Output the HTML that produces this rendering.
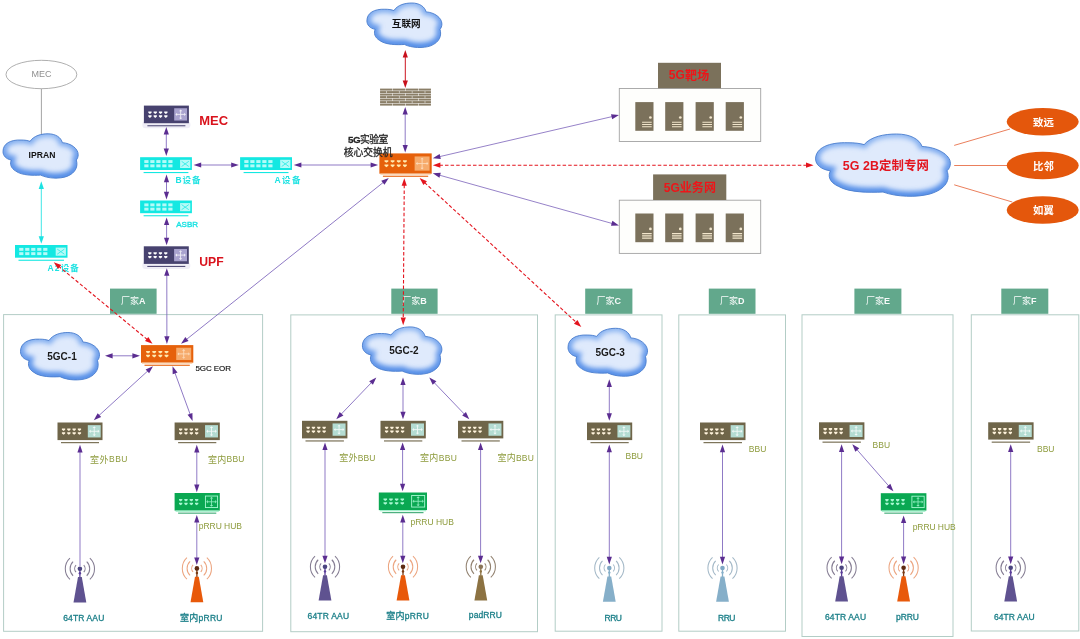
<!DOCTYPE html>
<html lang="zh">
<head>
<meta charset="utf-8">
<title>5G lab network topology</title>
<style>
html,body{margin:0;padding:0;background:#ffffff;}
body{width:1080px;height:639px;overflow:hidden;font-family:"Liberation Sans","Noto Sans CJK SC",sans-serif;}
svg{display:block;font-family:"Liberation Sans","Noto Sans CJK SC",sans-serif;filter:blur(0.4px);}
</style>
</head>
<body>
<svg width="1080" height="639" viewBox="0 0 1080 639">
<defs>
<linearGradient id="cg" x1="0" y1="0" x2="0" y2="1"><stop offset="0" stop-color="#8db6f1"/><stop offset="0.45" stop-color="#6a9dec"/><stop offset="1" stop-color="#4c88e6"/></linearGradient>
<filter id="blurS" x="-30%" y="-30%" width="160%" height="160%"><feGaussianBlur stdDeviation="2.7"/></filter>
<filter id="blurL" x="-30%" y="-30%" width="160%" height="160%"><feGaussianBlur stdDeviation="5.5"/></filter>
</defs>
<rect width="1080" height="639" fill="#ffffff"/>
<rect x="3.60" y="314.60" width="259.00" height="316.70" fill="#ffffff" stroke="#b3cdc6" stroke-width="1"/>
<rect x="290.80" y="314.90" width="246.70" height="316.80" fill="#ffffff" stroke="#b3cdc6" stroke-width="1"/>
<rect x="555.20" y="314.90" width="106.80" height="316.30" fill="#ffffff" stroke="#b3cdc6" stroke-width="1"/>
<rect x="678.80" y="314.90" width="106.70" height="316.30" fill="#ffffff" stroke="#b3cdc6" stroke-width="1"/>
<rect x="802.00" y="314.80" width="151.00" height="321.70" fill="#ffffff" stroke="#b3cdc6" stroke-width="1"/>
<rect x="971.30" y="314.80" width="107.50" height="316.20" fill="#ffffff" stroke="#b3cdc6" stroke-width="1"/>
<rect x="110.00" y="288.6" width="46.60" height="25.2" fill="#62a88c"/>
<g aria-label="厂家A" fill="#ffffff" opacity="0.95"><text x="121.05" y="304.42" font-size="9" font-family="'Liberation Sans','Noto Sans CJK SC',sans-serif" xml:space="preserve">厂家</text><text x="139.05" y="304.19" font-size="9" font-weight="bold" xml:space="preserve">A</text></g>
<rect x="391.30" y="288.6" width="46.30" height="25.2" fill="#62a88c"/>
<g aria-label="厂家B" fill="#ffffff" opacity="0.95"><text x="402.20" y="304.42" font-size="9" font-family="'Liberation Sans','Noto Sans CJK SC',sans-serif" xml:space="preserve">厂家</text><text x="420.20" y="304.19" font-size="9" font-weight="bold" xml:space="preserve">B</text></g>
<rect x="585.20" y="288.6" width="47.20" height="25.2" fill="#62a88c"/>
<g aria-label="厂家C" fill="#ffffff" opacity="0.95"><text x="596.55" y="304.42" font-size="9" font-family="'Liberation Sans','Noto Sans CJK SC',sans-serif" xml:space="preserve">厂家</text><text x="614.55" y="304.19" font-size="9" font-weight="bold" xml:space="preserve">C</text></g>
<rect x="708.80" y="288.6" width="46.70" height="25.2" fill="#62a88c"/>
<g aria-label="厂家D" fill="#ffffff" opacity="0.95"><text x="719.90" y="304.42" font-size="9" font-family="'Liberation Sans','Noto Sans CJK SC',sans-serif" xml:space="preserve">厂家</text><text x="737.90" y="304.19" font-size="9" font-weight="bold" xml:space="preserve">D</text></g>
<rect x="854.40" y="288.6" width="47.00" height="25.2" fill="#62a88c"/>
<g aria-label="厂家E" fill="#ffffff" opacity="0.95"><text x="865.90" y="304.42" font-size="9" font-family="'Liberation Sans','Noto Sans CJK SC',sans-serif" xml:space="preserve">厂家</text><text x="883.90" y="304.19" font-size="9" font-weight="bold" xml:space="preserve">E</text></g>
<rect x="1001.30" y="288.6" width="47.00" height="25.2" fill="#62a88c"/>
<g aria-label="厂家F" fill="#ffffff" opacity="0.95"><text x="1013.05" y="304.42" font-size="9" font-family="'Liberation Sans','Noto Sans CJK SC',sans-serif" xml:space="preserve">厂家</text><text x="1031.05" y="304.19" font-size="9" font-weight="bold" xml:space="preserve">F</text></g>
<ellipse cx="41.4" cy="74.5" rx="35.4" ry="14.2" fill="#ffffff" stroke="#9a9a9a" stroke-width="0.8"/>
<g aria-label="MEC" fill="#8f8f8f"><text x="31.60" y="77.49" font-size="9" xml:space="preserve">MEC</text></g>
<path d="M41.4,88.8V135" stroke="#9a9a9a" stroke-width="0.9"/>
<clipPath id="cc1"><path d="M3.00,151.56C3.00,143.57 10.52,139.57 21.05,140.02C24.81,140.02 27.82,140.46 30.07,141.35C33.83,135.58 41.35,133.80 48.12,133.80C55.64,133.80 60.90,137.35 62.41,142.68C70.68,143.12 78.20,148.45 78.20,154.67C78.20,156.89 77.45,158.66 76.32,160.00C78.20,166.21 75.94,172.87 66.92,176.42C59.40,179.09 48.12,178.64 40.60,175.09C33.08,175.54 21.80,175.54 15.78,171.10C10.52,167.99 9.77,163.55 11.27,160.00C6.01,159.11 3.00,155.56 3.00,151.56Z"/></clipPath>
<path d="M3.00,151.56C3.00,143.57 10.52,139.57 21.05,140.02C24.81,140.02 27.82,140.46 30.07,141.35C33.83,135.58 41.35,133.80 48.12,133.80C55.64,133.80 60.90,137.35 62.41,142.68C70.68,143.12 78.20,148.45 78.20,154.67C78.20,156.89 77.45,158.66 76.32,160.00C78.20,166.21 75.94,172.87 66.92,176.42C59.40,179.09 48.12,178.64 40.60,175.09C33.08,175.54 21.80,175.54 15.78,171.10C10.52,167.99 9.77,163.55 11.27,160.00C6.01,159.11 3.00,155.56 3.00,151.56Z" fill="#dfeafc"/>
<g clip-path="url(#cc1)"><path d="M3.00,151.56C3.00,143.57 10.52,139.57 21.05,140.02C24.81,140.02 27.82,140.46 30.07,141.35C33.83,135.58 41.35,133.80 48.12,133.80C55.64,133.80 60.90,137.35 62.41,142.68C70.68,143.12 78.20,148.45 78.20,154.67C78.20,156.89 77.45,158.66 76.32,160.00C78.20,166.21 75.94,172.87 66.92,176.42C59.40,179.09 48.12,178.64 40.60,175.09C33.08,175.54 21.80,175.54 15.78,171.10C10.52,167.99 9.77,163.55 11.27,160.00C6.01,159.11 3.00,155.56 3.00,151.56Z" fill="none" stroke="url(#cg)" stroke-width="8" filter="url(#blurS)" transform="translate(0,-0.8)"/></g>
<path d="M3.00,151.56C3.00,143.57 10.52,139.57 21.05,140.02C24.81,140.02 27.82,140.46 30.07,141.35C33.83,135.58 41.35,133.80 48.12,133.80C55.64,133.80 60.90,137.35 62.41,142.68C70.68,143.12 78.20,148.45 78.20,154.67C78.20,156.89 77.45,158.66 76.32,160.00C78.20,166.21 75.94,172.87 66.92,176.42C59.40,179.09 48.12,178.64 40.60,175.09C33.08,175.54 21.80,175.54 15.78,171.10C10.52,167.99 9.77,163.55 11.27,160.00C6.01,159.11 3.00,155.56 3.00,151.56Z" fill="none" stroke="#4a7dcd" stroke-width="0.9"/>
<g aria-label="IPRAN" fill="#111111"><text x="28.62" y="158.25" font-size="8.6" font-weight="bold" xml:space="preserve">IPRAN</text></g>
<path d="M41.30,187.90L41.30,237.20" stroke="#1ce2e2" stroke-width="0.85" fill="none"/>
<path d="M41.30,181.30L43.90,188.90L38.70,188.90Z" fill="#1ce2e2"/>
<path d="M41.30,243.80L38.70,236.20L43.90,236.20Z" fill="#1ce2e2"/>
<rect x="15.00" y="245.00" width="52.50" height="12.70" fill="#14e8e2"/><rect x="18.50" y="259.70" width="45.50" height="1.1" fill="#14e8e2"/><rect x="19.20" y="247.90" width="4.2" height="2.9" fill="#b5fbf8"/><rect x="19.20" y="252.20" width="4.2" height="2.9" fill="#b5fbf8"/><rect x="25.20" y="247.90" width="4.2" height="2.9" fill="#b5fbf8"/><rect x="25.20" y="252.20" width="4.2" height="2.9" fill="#b5fbf8"/><rect x="31.20" y="247.90" width="4.2" height="2.9" fill="#b5fbf8"/><rect x="31.20" y="252.20" width="4.2" height="2.9" fill="#b5fbf8"/><rect x="37.20" y="247.90" width="4.2" height="2.9" fill="#b5fbf8"/><rect x="37.20" y="252.20" width="4.2" height="2.9" fill="#b5fbf8"/><rect x="43.20" y="247.90" width="4.2" height="2.9" fill="#b5fbf8"/><rect x="43.20" y="252.20" width="4.2" height="2.9" fill="#b5fbf8"/><rect x="55.70" y="247.60" width="10.20" height="8.10" fill="#b5fbf8"/><path d="M57.20,249.10L64.40,254.20M64.40,249.10L57.20,254.20" stroke="#14e8e2" stroke-width="0.9" opacity="0.8"/>
<g aria-label="A2设备" fill="#1ce2e2"><text x="47.50" y="271.22" font-size="8.5" font-weight="bold" letter-spacing="1.145" xml:space="preserve">A2</text><text x="60.66" y="271.43" font-size="8.5" font-weight="bold" letter-spacing="1.14" font-family="'Liberation Sans','Noto Sans CJK SC',sans-serif" xml:space="preserve">设备</text></g>
<rect x="142.40" y="121.20" width="48.00" height="7" rx="3" fill="#f0eef7"/><rect x="143.90" y="105.60" width="45.00" height="17.60" fill="#47426f"/><rect x="147.40" y="125.20" width="38.00" height="1.1" fill="#55507a"/><path d="M148.30,111.50h3.30v1.3l-1.65,1.3l-1.65,-1.3z" fill="#ffffff"/><path d="M148.30,115.28h3.30v1.3l-1.65,1.3l-1.65,-1.3z" fill="#ffffff"/><path d="M153.60,111.50h3.30v1.3l-1.65,1.3l-1.65,-1.3z" fill="#ffffff"/><path d="M153.60,115.28h3.30v1.3l-1.65,1.3l-1.65,-1.3z" fill="#ffffff"/><path d="M158.90,111.50h3.30v1.3l-1.65,1.3l-1.65,-1.3z" fill="#ffffff"/><path d="M158.90,115.28h3.30v1.3l-1.65,1.3l-1.65,-1.3z" fill="#ffffff"/><path d="M164.20,111.50h3.30v1.3l-1.65,1.3l-1.65,-1.3z" fill="#ffffff"/><path d="M164.20,115.28h3.30v1.3l-1.65,1.3l-1.65,-1.3z" fill="#ffffff"/><rect x="174.20" y="108.24" width="12.90" height="12.32" fill="#a9a3cf"/><path d="M176.80,114.40H184.50M180.65,110.84V117.96" stroke="#ffffff" stroke-width="0.9" opacity="0.8"/><path d="M175.40,114.40l1.7,-1.7v3.4zM185.90,114.40l-1.7,-1.7v3.4zM180.65,109.44l-1.7,1.7h3.4zM180.65,119.36l-1.7,-1.7h3.4z" fill="#ffffff" opacity="0.8"/>
<g aria-label="MEC" fill="#d9121c"><text x="199.20" y="125.41" font-size="13" font-weight="bold" xml:space="preserve">MEC</text></g>
<path d="M166.30,133.60L166.30,149.40" stroke="#7b62ba" stroke-width="0.85" fill="none"/>
<path d="M166.30,127.00L168.90,134.60L163.70,134.60Z" fill="#5b2d91"/>
<path d="M166.30,156.00L163.70,148.40L168.90,148.40Z" fill="#5b2d91"/>
<rect x="140.10" y="157.20" width="51.80" height="12.80" fill="#14e8e2"/><rect x="143.60" y="172.00" width="44.80" height="1.1" fill="#14e8e2"/><rect x="144.30" y="160.10" width="4.2" height="2.9" fill="#b5fbf8"/><rect x="144.30" y="164.40" width="4.2" height="2.9" fill="#b5fbf8"/><rect x="150.30" y="160.10" width="4.2" height="2.9" fill="#b5fbf8"/><rect x="150.30" y="164.40" width="4.2" height="2.9" fill="#b5fbf8"/><rect x="156.30" y="160.10" width="4.2" height="2.9" fill="#b5fbf8"/><rect x="156.30" y="164.40" width="4.2" height="2.9" fill="#b5fbf8"/><rect x="162.30" y="160.10" width="4.2" height="2.9" fill="#b5fbf8"/><rect x="162.30" y="164.40" width="4.2" height="2.9" fill="#b5fbf8"/><rect x="168.30" y="160.10" width="4.2" height="2.9" fill="#b5fbf8"/><rect x="168.30" y="164.40" width="4.2" height="2.9" fill="#b5fbf8"/><rect x="180.10" y="159.80" width="10.20" height="8.20" fill="#b5fbf8"/><path d="M181.60,161.30L188.80,166.50M188.80,161.30L181.60,166.50" stroke="#14e8e2" stroke-width="0.9" opacity="0.8"/>
<g aria-label="B设备" fill="#1ce2e2"><text x="175.50" y="183.02" font-size="8.5" font-weight="bold" letter-spacing="0.931" xml:space="preserve">B</text><text x="182.57" y="183.23" font-size="8.5" font-weight="bold" letter-spacing="0.93" font-family="'Liberation Sans','Noto Sans CJK SC',sans-serif" xml:space="preserve">设备</text></g>
<path d="M166.50,181.20L166.50,192.80" stroke="#7b62ba" stroke-width="0.85" fill="none"/>
<path d="M166.50,174.60L169.10,182.20L163.90,182.20Z" fill="#5b2d91"/>
<path d="M166.50,199.40L163.90,191.80L169.10,191.80Z" fill="#5b2d91"/>
<rect x="140.10" y="200.50" width="51.80" height="12.70" fill="#14e8e2"/><rect x="143.60" y="215.20" width="44.80" height="1.1" fill="#14e8e2"/><rect x="144.30" y="203.40" width="4.2" height="2.9" fill="#b5fbf8"/><rect x="144.30" y="207.70" width="4.2" height="2.9" fill="#b5fbf8"/><rect x="150.30" y="203.40" width="4.2" height="2.9" fill="#b5fbf8"/><rect x="150.30" y="207.70" width="4.2" height="2.9" fill="#b5fbf8"/><rect x="156.30" y="203.40" width="4.2" height="2.9" fill="#b5fbf8"/><rect x="156.30" y="207.70" width="4.2" height="2.9" fill="#b5fbf8"/><rect x="162.30" y="203.40" width="4.2" height="2.9" fill="#b5fbf8"/><rect x="162.30" y="207.70" width="4.2" height="2.9" fill="#b5fbf8"/><rect x="168.30" y="203.40" width="4.2" height="2.9" fill="#b5fbf8"/><rect x="168.30" y="207.70" width="4.2" height="2.9" fill="#b5fbf8"/><rect x="180.10" y="203.10" width="10.20" height="8.10" fill="#b5fbf8"/><path d="M181.60,204.60L188.80,209.70M188.80,204.60L181.60,209.70" stroke="#14e8e2" stroke-width="0.9" opacity="0.8"/>
<g aria-label="ASBR" fill="#1ce2e2"><text x="176.30" y="226.64" font-size="8.0" letter-spacing="-0.028" stroke="#1ce2e2" stroke-width="0.35" xml:space="preserve">ASBR</text></g>
<path d="M166.60,224.10L166.60,238.70" stroke="#7b62ba" stroke-width="0.85" fill="none"/>
<path d="M166.60,217.50L169.20,225.10L164.00,225.10Z" fill="#5b2d91"/>
<path d="M166.60,245.30L164.00,237.70L169.20,237.70Z" fill="#5b2d91"/>
<rect x="142.30" y="261.90" width="48.00" height="7" rx="3" fill="#f0eef7"/><rect x="143.80" y="246.30" width="45.00" height="17.60" fill="#47426f"/><rect x="147.30" y="265.90" width="38.00" height="1.1" fill="#55507a"/><path d="M148.20,252.20h3.30v1.3l-1.65,1.3l-1.65,-1.3z" fill="#ffffff"/><path d="M148.20,255.98h3.30v1.3l-1.65,1.3l-1.65,-1.3z" fill="#ffffff"/><path d="M153.50,252.20h3.30v1.3l-1.65,1.3l-1.65,-1.3z" fill="#ffffff"/><path d="M153.50,255.98h3.30v1.3l-1.65,1.3l-1.65,-1.3z" fill="#ffffff"/><path d="M158.80,252.20h3.30v1.3l-1.65,1.3l-1.65,-1.3z" fill="#ffffff"/><path d="M158.80,255.98h3.30v1.3l-1.65,1.3l-1.65,-1.3z" fill="#ffffff"/><path d="M164.10,252.20h3.30v1.3l-1.65,1.3l-1.65,-1.3z" fill="#ffffff"/><path d="M164.10,255.98h3.30v1.3l-1.65,1.3l-1.65,-1.3z" fill="#ffffff"/><rect x="174.10" y="248.94" width="12.90" height="12.32" fill="#a9a3cf"/><path d="M176.70,255.10H184.40M180.55,251.54V258.66" stroke="#ffffff" stroke-width="0.9" opacity="0.8"/><path d="M175.30,255.10l1.7,-1.7v3.4zM185.80,255.10l-1.7,-1.7v3.4zM180.55,250.14l-1.7,1.7h3.4zM180.55,260.06l-1.7,-1.7h3.4z" fill="#ffffff" opacity="0.8"/>
<g aria-label="UPF" fill="#d9121c"><text x="199.30" y="266.33" font-size="12.2" font-weight="bold" xml:space="preserve">UPF</text></g>
<path d="M166.81,274.80L166.89,337.30" stroke="#7b62ba" stroke-width="0.85" fill="none"/>
<path d="M166.80,268.20L169.41,275.80L164.21,275.80Z" fill="#5b2d91"/>
<path d="M166.90,343.90L164.29,336.30L169.49,336.30Z" fill="#5b2d91"/>
<path d="M200.20,165.00L232.20,165.00" stroke="#7b62ba" stroke-width="0.85" fill="none"/>
<path d="M193.60,165.00L201.20,162.40L201.20,167.60Z" fill="#5b2d91"/>
<path d="M238.80,165.00L231.20,167.60L231.20,162.40Z" fill="#5b2d91"/>
<rect x="240.10" y="157.20" width="51.90" height="12.80" fill="#14e8e2"/><rect x="243.60" y="172.00" width="44.90" height="1.1" fill="#14e8e2"/><rect x="244.30" y="160.10" width="4.2" height="2.9" fill="#b5fbf8"/><rect x="244.30" y="164.40" width="4.2" height="2.9" fill="#b5fbf8"/><rect x="250.30" y="160.10" width="4.2" height="2.9" fill="#b5fbf8"/><rect x="250.30" y="164.40" width="4.2" height="2.9" fill="#b5fbf8"/><rect x="256.30" y="160.10" width="4.2" height="2.9" fill="#b5fbf8"/><rect x="256.30" y="164.40" width="4.2" height="2.9" fill="#b5fbf8"/><rect x="262.30" y="160.10" width="4.2" height="2.9" fill="#b5fbf8"/><rect x="262.30" y="164.40" width="4.2" height="2.9" fill="#b5fbf8"/><rect x="268.30" y="160.10" width="4.2" height="2.9" fill="#b5fbf8"/><rect x="268.30" y="164.40" width="4.2" height="2.9" fill="#b5fbf8"/><rect x="280.20" y="159.80" width="10.20" height="8.20" fill="#b5fbf8"/><path d="M281.70,161.30L288.90,166.50M288.90,161.30L281.70,166.50" stroke="#14e8e2" stroke-width="0.9" opacity="0.8"/>
<g aria-label="A设备" fill="#1ce2e2"><text x="274.50" y="183.02" font-size="8.5" font-weight="bold" letter-spacing="1.431" xml:space="preserve">A</text><text x="282.07" y="183.23" font-size="8.5" font-weight="bold" letter-spacing="1.43" font-family="'Liberation Sans','Noto Sans CJK SC',sans-serif" xml:space="preserve">设备</text></g>
<path d="M300.40,165.00L371.60,165.00" stroke="#7b62ba" stroke-width="0.85" fill="none"/>
<path d="M293.80,165.00L301.40,162.40L301.40,167.60Z" fill="#5b2d91"/>
<path d="M378.20,165.00L370.60,167.60L370.60,162.40Z" fill="#5b2d91"/>
<clipPath id="cc2"><path d="M366.90,20.84C366.90,12.81 374.40,8.80 384.90,9.24C388.65,9.24 391.65,9.69 393.90,10.58C397.65,4.78 405.15,3.00 411.90,3.00C419.40,3.00 424.65,6.57 426.15,11.92C434.40,12.37 441.90,17.72 441.90,23.96C441.90,26.19 441.15,27.98 440.02,29.31C441.90,35.56 439.65,42.25 430.65,45.82C423.15,48.49 411.90,48.05 404.40,44.48C396.90,44.92 385.65,44.92 379.65,40.46C374.40,37.34 373.65,32.88 375.15,29.31C369.90,28.42 366.90,24.85 366.90,20.84Z"/></clipPath>
<path d="M366.90,20.84C366.90,12.81 374.40,8.80 384.90,9.24C388.65,9.24 391.65,9.69 393.90,10.58C397.65,4.78 405.15,3.00 411.90,3.00C419.40,3.00 424.65,6.57 426.15,11.92C434.40,12.37 441.90,17.72 441.90,23.96C441.90,26.19 441.15,27.98 440.02,29.31C441.90,35.56 439.65,42.25 430.65,45.82C423.15,48.49 411.90,48.05 404.40,44.48C396.90,44.92 385.65,44.92 379.65,40.46C374.40,37.34 373.65,32.88 375.15,29.31C369.90,28.42 366.90,24.85 366.90,20.84Z" fill="#dfeafc"/>
<g clip-path="url(#cc2)"><path d="M366.90,20.84C366.90,12.81 374.40,8.80 384.90,9.24C388.65,9.24 391.65,9.69 393.90,10.58C397.65,4.78 405.15,3.00 411.90,3.00C419.40,3.00 424.65,6.57 426.15,11.92C434.40,12.37 441.90,17.72 441.90,23.96C441.90,26.19 441.15,27.98 440.02,29.31C441.90,35.56 439.65,42.25 430.65,45.82C423.15,48.49 411.90,48.05 404.40,44.48C396.90,44.92 385.65,44.92 379.65,40.46C374.40,37.34 373.65,32.88 375.15,29.31C369.90,28.42 366.90,24.85 366.90,20.84Z" fill="none" stroke="url(#cg)" stroke-width="8" filter="url(#blurS)" transform="translate(0,-0.8)"/></g>
<path d="M366.90,20.84C366.90,12.81 374.40,8.80 384.90,9.24C388.65,9.24 391.65,9.69 393.90,10.58C397.65,4.78 405.15,3.00 411.90,3.00C419.40,3.00 424.65,6.57 426.15,11.92C434.40,12.37 441.90,17.72 441.90,23.96C441.90,26.19 441.15,27.98 440.02,29.31C441.90,35.56 439.65,42.25 430.65,45.82C423.15,48.49 411.90,48.05 404.40,44.48C396.90,44.92 385.65,44.92 379.65,40.46C374.40,37.34 373.65,32.88 375.15,29.31C369.90,28.42 366.90,24.85 366.90,20.84Z" fill="none" stroke="#4a7dcd" stroke-width="0.9"/>
<g aria-label="互联网" fill="#111111"><text x="391.80" y="27.25" font-size="9.6" font-weight="bold" font-family="'Liberation Sans','Noto Sans CJK SC',sans-serif" xml:space="preserve">互联网</text></g>
<path d="M405.30,56.60L405.30,81.40" stroke="#cc1420" stroke-width="1.0" fill="none"/>
<path d="M405.30,50.00L407.90,57.60L402.70,57.60Z" fill="#c8101c"/>
<path d="M405.30,88.00L402.70,80.40L407.90,80.40Z" fill="#c8101c"/>
<rect x="380.05" y="88.60" width="12.40" height="2.0" fill="#8a7e67"/><rect x="392.95" y="88.60" width="12.40" height="2.0" fill="#8a7e67"/><rect x="405.85" y="88.60" width="12.40" height="2.0" fill="#8a7e67"/><rect x="418.75" y="88.60" width="12.20" height="2.0" fill="#8a7e67"/><rect x="380.05" y="91.10" width="6.00" height="2.0" fill="#8a7e67"/><rect x="386.55" y="91.10" width="12.40" height="2.0" fill="#8a7e67"/><rect x="399.45" y="91.10" width="12.40" height="2.0" fill="#8a7e67"/><rect x="412.35" y="91.10" width="12.40" height="2.0" fill="#8a7e67"/><rect x="425.25" y="91.10" width="5.70" height="2.0" fill="#8a7e67"/><rect x="380.05" y="93.60" width="12.40" height="2.0" fill="#8a7e67"/><rect x="392.95" y="93.60" width="12.40" height="2.0" fill="#8a7e67"/><rect x="405.85" y="93.60" width="12.40" height="2.0" fill="#8a7e67"/><rect x="418.75" y="93.60" width="12.20" height="2.0" fill="#8a7e67"/><rect x="380.05" y="96.10" width="6.00" height="2.0" fill="#8a7e67"/><rect x="386.55" y="96.10" width="12.40" height="2.0" fill="#8a7e67"/><rect x="399.45" y="96.10" width="12.40" height="2.0" fill="#8a7e67"/><rect x="412.35" y="96.10" width="12.40" height="2.0" fill="#8a7e67"/><rect x="425.25" y="96.10" width="5.70" height="2.0" fill="#8a7e67"/><rect x="380.05" y="98.60" width="12.40" height="2.0" fill="#8a7e67"/><rect x="392.95" y="98.60" width="12.40" height="2.0" fill="#8a7e67"/><rect x="405.85" y="98.60" width="12.40" height="2.0" fill="#8a7e67"/><rect x="418.75" y="98.60" width="12.20" height="2.0" fill="#8a7e67"/><rect x="380.05" y="101.10" width="6.00" height="2.0" fill="#8a7e67"/><rect x="386.55" y="101.10" width="12.40" height="2.0" fill="#8a7e67"/><rect x="399.45" y="101.10" width="12.40" height="2.0" fill="#8a7e67"/><rect x="412.35" y="101.10" width="12.40" height="2.0" fill="#8a7e67"/><rect x="425.25" y="101.10" width="5.70" height="2.0" fill="#8a7e67"/><rect x="380.05" y="103.60" width="12.40" height="2.0" fill="#8a7e67"/><rect x="392.95" y="103.60" width="12.40" height="2.0" fill="#8a7e67"/><rect x="405.85" y="103.60" width="12.40" height="2.0" fill="#8a7e67"/><rect x="418.75" y="103.60" width="12.20" height="2.0" fill="#8a7e67"/>
<path d="M405.20,113.60L405.20,146.00" stroke="#7b62ba" stroke-width="0.85" fill="none"/>
<path d="M405.20,107.00L407.80,114.60L402.60,114.60Z" fill="#5b2d91"/>
<path d="M405.20,152.60L402.60,145.00L407.80,145.00Z" fill="#5b2d91"/>
<rect x="379.40" y="153.40" width="52.30" height="20.30" fill="#e6610b"/><rect x="380.40" y="173.70" width="50.30" height="1.2" fill="#fbd6b4"/><rect x="382.90" y="175.70" width="45.30" height="1.1" fill="#e6610b"/><path d="M384.51,160.20h3.84v1.3l-1.92,1.3l-1.92,-1.3z" fill="#ffeab0"/><path d="M384.51,164.56h3.84v1.3l-1.92,1.3l-1.92,-1.3z" fill="#ffeab0"/><path d="M390.67,160.20h3.84v1.3l-1.92,1.3l-1.92,-1.3z" fill="#ffeab0"/><path d="M390.67,164.56h3.84v1.3l-1.92,1.3l-1.92,-1.3z" fill="#ffeab0"/><path d="M396.83,160.20h3.84v1.3l-1.92,1.3l-1.92,-1.3z" fill="#ffeab0"/><path d="M396.83,164.56h3.84v1.3l-1.92,1.3l-1.92,-1.3z" fill="#ffeab0"/><path d="M402.99,160.20h3.84v1.3l-1.92,1.3l-1.92,-1.3z" fill="#ffeab0"/><path d="M402.99,164.56h3.84v1.3l-1.92,1.3l-1.92,-1.3z" fill="#ffeab0"/><rect x="414.62" y="156.44" width="14.99" height="14.21" fill="#f6ab6c"/><path d="M417.22,163.55H427.01M422.11,159.04V168.05" stroke="#ffe6cc" stroke-width="0.9" opacity="0.8"/><path d="M415.82,163.55l1.7,-1.7v3.4zM428.41,163.55l-1.7,-1.7v3.4zM422.11,157.64l-1.7,1.7h3.4zM422.11,169.45l-1.7,-1.7h3.4z" fill="#ffe6cc" opacity="0.8"/>
<g aria-label="5G实验室" fill="#262626"><text x="348.00" y="143.08" font-size="9.8" font-weight="bold" letter-spacing="-0.568" stroke="#262626" stroke-width="0.28" xml:space="preserve">5G</text><text x="359.94" y="143.32" font-size="9.8" letter-spacing="-0.57" stroke="#262626" stroke-width="0.28" font-family="'Liberation Sans','Noto Sans CJK SC',sans-serif" xml:space="preserve">实验室</text></g>
<g aria-label="核心交换机" fill="#262626"><text x="343.80" y="155.92" font-size="9.8" letter-spacing="-0.075" stroke="#262626" stroke-width="0.28" font-family="'Liberation Sans','Noto Sans CJK SC',sans-serif" xml:space="preserve">核心交换机</text></g>
<path d="M383.64,182.12L186.16,339.68" stroke="#7b62ba" stroke-width="0.85" fill="none"/>
<path d="M388.80,178.00L384.48,184.77L381.24,180.71Z" fill="#5b2d91"/>
<path d="M181.00,343.80L185.32,337.03L188.56,341.09Z" fill="#5b2d91"/>
<path d="M439.23,156.71L612.57,116.49" stroke="#7b62ba" stroke-width="0.8" fill="none"/>
<path d="M432.80,158.20L439.62,153.95L440.79,159.02Z" fill="#5b2d91"/>
<path d="M619.00,115.00L612.18,119.25L611.01,114.18Z" fill="#5b2d91"/>
<path d="M439.16,175.08L612.64,223.62" stroke="#7b62ba" stroke-width="0.8" fill="none"/>
<path d="M432.80,173.30L440.82,172.84L439.42,177.85Z" fill="#5b2d91"/>
<path d="M619.00,225.40L610.98,225.86L612.38,220.85Z" fill="#5b2d91"/>
<rect x="619.3" y="88.5" width="141.4" height="53.0" fill="#fefefc" stroke="#a3a3a3" stroke-width="0.9"/>
<rect x="658.0" y="62.8" width="63.0" height="25.4" fill="#7b715b"/>
<g aria-label="5G靶场" fill="#ee1418"><text x="668.70" y="79.46" font-size="12" font-weight="bold" letter-spacing="0.197" xml:space="preserve">5G</text><text x="685.10" y="79.76" font-size="12" font-weight="bold" letter-spacing="0.2" font-family="'Liberation Sans','Noto Sans CJK SC',sans-serif" xml:space="preserve">靶场</text></g>
<rect x="635.30" y="102.10" width="18.2" height="28.7" fill="#7b715b"/><circle cx="650.40" cy="117.50" r="1.35" fill="#f2e6cc"/><path d="M642.10,122.20h9.6M642.10,124.50h9.6M642.10,126.70h9.6" stroke="#f2e6cc" stroke-width="1.1"/>
<rect x="665.20" y="102.10" width="18.2" height="28.7" fill="#7b715b"/><circle cx="680.30" cy="117.50" r="1.35" fill="#f2e6cc"/><path d="M672.00,122.20h9.6M672.00,124.50h9.6M672.00,126.70h9.6" stroke="#f2e6cc" stroke-width="1.1"/>
<rect x="695.60" y="102.10" width="18.2" height="28.7" fill="#7b715b"/><circle cx="710.70" cy="117.50" r="1.35" fill="#f2e6cc"/><path d="M702.40,122.20h9.6M702.40,124.50h9.6M702.40,126.70h9.6" stroke="#f2e6cc" stroke-width="1.1"/>
<rect x="725.70" y="102.10" width="18.2" height="28.7" fill="#7b715b"/><circle cx="740.80" cy="117.50" r="1.35" fill="#f2e6cc"/><path d="M732.50,122.20h9.6M732.50,124.50h9.6M732.50,126.70h9.6" stroke="#f2e6cc" stroke-width="1.1"/>
<rect x="619.3" y="200.2" width="141.4" height="53.2" fill="#fefefc" stroke="#a3a3a3" stroke-width="0.9"/>
<rect x="653.1" y="174.4" width="73.2" height="25.6" fill="#7b715b"/>
<g aria-label="5G业务网" fill="#ee1418"><text x="663.80" y="191.66" font-size="12" font-weight="bold" letter-spacing="0.023" xml:space="preserve">5G</text><text x="679.85" y="191.96" font-size="12" font-weight="bold" letter-spacing="0.025" font-family="'Liberation Sans','Noto Sans CJK SC',sans-serif" xml:space="preserve">业务网</text></g>
<rect x="635.30" y="213.50" width="18.2" height="28.7" fill="#7b715b"/><circle cx="650.40" cy="228.90" r="1.35" fill="#f2e6cc"/><path d="M642.10,233.60h9.6M642.10,235.90h9.6M642.10,238.10h9.6" stroke="#f2e6cc" stroke-width="1.1"/>
<rect x="665.20" y="213.50" width="18.2" height="28.7" fill="#7b715b"/><circle cx="680.30" cy="228.90" r="1.35" fill="#f2e6cc"/><path d="M672.00,233.60h9.6M672.00,235.90h9.6M672.00,238.10h9.6" stroke="#f2e6cc" stroke-width="1.1"/>
<rect x="695.60" y="213.50" width="18.2" height="28.7" fill="#7b715b"/><circle cx="710.70" cy="228.90" r="1.35" fill="#f2e6cc"/><path d="M702.40,233.60h9.6M702.40,235.90h9.6M702.40,238.10h9.6" stroke="#f2e6cc" stroke-width="1.1"/>
<rect x="725.70" y="213.50" width="18.2" height="28.7" fill="#7b715b"/><circle cx="740.80" cy="228.90" r="1.35" fill="#f2e6cc"/><path d="M732.50,233.60h9.6M732.50,235.90h9.6M732.50,238.10h9.6" stroke="#f2e6cc" stroke-width="1.1"/>
<path d="M954.2,145.4L1010,129M954.2,165.5H1008M954.2,184.8L1012.3,202" stroke="#e8714a" stroke-width="0.9" fill="none"/>
<clipPath id="cc3"><path d="M815.60,158.96C815.60,147.73 829.08,142.11 847.95,142.74C854.69,142.74 860.08,143.36 864.13,144.61C870.87,136.50 884.35,134.00 896.48,134.00C909.96,134.00 919.40,138.99 922.09,146.48C936.92,147.10 950.40,154.59 950.40,163.33C950.40,166.45 949.05,168.94 947.03,170.82C950.40,179.55 946.36,188.91 930.18,193.90C916.70,197.65 896.48,197.02 883.00,192.03C869.52,192.66 849.30,192.66 838.52,186.42C829.08,182.05 827.73,175.81 830.43,170.82C820.99,169.57 815.60,164.58 815.60,158.96Z"/></clipPath>
<path d="M815.60,158.96C815.60,147.73 829.08,142.11 847.95,142.74C854.69,142.74 860.08,143.36 864.13,144.61C870.87,136.50 884.35,134.00 896.48,134.00C909.96,134.00 919.40,138.99 922.09,146.48C936.92,147.10 950.40,154.59 950.40,163.33C950.40,166.45 949.05,168.94 947.03,170.82C950.40,179.55 946.36,188.91 930.18,193.90C916.70,197.65 896.48,197.02 883.00,192.03C869.52,192.66 849.30,192.66 838.52,186.42C829.08,182.05 827.73,175.81 830.43,170.82C820.99,169.57 815.60,164.58 815.60,158.96Z" fill="#dfeafc"/>
<g clip-path="url(#cc3)"><path d="M815.60,158.96C815.60,147.73 829.08,142.11 847.95,142.74C854.69,142.74 860.08,143.36 864.13,144.61C870.87,136.50 884.35,134.00 896.48,134.00C909.96,134.00 919.40,138.99 922.09,146.48C936.92,147.10 950.40,154.59 950.40,163.33C950.40,166.45 949.05,168.94 947.03,170.82C950.40,179.55 946.36,188.91 930.18,193.90C916.70,197.65 896.48,197.02 883.00,192.03C869.52,192.66 849.30,192.66 838.52,186.42C829.08,182.05 827.73,175.81 830.43,170.82C820.99,169.57 815.60,164.58 815.60,158.96Z" fill="none" stroke="url(#cg)" stroke-width="8" filter="url(#blurS)" transform="translate(0,-0.8)"/></g>
<path d="M815.60,158.96C815.60,147.73 829.08,142.11 847.95,142.74C854.69,142.74 860.08,143.36 864.13,144.61C870.87,136.50 884.35,134.00 896.48,134.00C909.96,134.00 919.40,138.99 922.09,146.48C936.92,147.10 950.40,154.59 950.40,163.33C950.40,166.45 949.05,168.94 947.03,170.82C950.40,179.55 946.36,188.91 930.18,193.90C916.70,197.65 896.48,197.02 883.00,192.03C869.52,192.66 849.30,192.66 838.52,186.42C829.08,182.05 827.73,175.81 830.43,170.82C820.99,169.57 815.60,164.58 815.60,158.96Z" fill="none" stroke="#4a7dcd" stroke-width="0.9"/>
<g aria-label="5G 2B定制专网" fill="#e3141e"><text x="842.80" y="169.80" font-size="12.4" font-weight="bold" letter-spacing="0.083" xml:space="preserve">5G 2B</text><text x="879.05" y="170.11" font-size="12.4" font-weight="bold" letter-spacing="0.083" font-family="'Liberation Sans','Noto Sans CJK SC',sans-serif" xml:space="preserve">定制专网</text></g>
<ellipse cx="1042.7" cy="121.8" rx="36.0" ry="13.8" fill="#e4570c"/>
<g aria-label="致远" fill="#ffffff"><text x="1033.10" y="125.95" font-size="10.4" font-weight="bold" font-family="'Liberation Sans','Noto Sans CJK SC',sans-serif" xml:space="preserve">致远</text></g>
<ellipse cx="1042.7" cy="165.5" rx="36.0" ry="13.8" fill="#e4570c"/>
<g aria-label="比邻" fill="#ffffff"><text x="1033.10" y="169.65" font-size="10.4" font-weight="bold" font-family="'Liberation Sans','Noto Sans CJK SC',sans-serif" xml:space="preserve">比邻</text></g>
<ellipse cx="1042.7" cy="210.0" rx="36.0" ry="13.8" fill="#e4570c"/>
<g aria-label="如翼" fill="#ffffff"><text x="1033.10" y="214.15" font-size="10.4" font-weight="bold" font-family="'Liberation Sans','Noto Sans CJK SC',sans-serif" xml:space="preserve">如翼</text></g>
<clipPath id="cc4"><path d="M20.50,351.50C20.50,342.95 28.40,338.68 39.46,339.15C43.41,339.15 46.57,339.62 48.94,340.57C52.89,334.40 60.79,332.50 67.90,332.50C75.80,332.50 81.33,336.30 82.91,342.00C91.60,342.48 99.50,348.18 99.50,354.82C99.50,357.20 98.71,359.10 97.52,360.52C99.50,367.18 97.13,374.30 87.65,378.10C79.75,380.95 67.90,380.48 60.00,376.68C52.10,377.15 40.25,377.15 33.93,372.40C28.40,369.07 27.61,364.32 29.19,360.52C23.66,359.57 20.50,355.77 20.50,351.50Z"/></clipPath>
<path d="M20.50,351.50C20.50,342.95 28.40,338.68 39.46,339.15C43.41,339.15 46.57,339.62 48.94,340.57C52.89,334.40 60.79,332.50 67.90,332.50C75.80,332.50 81.33,336.30 82.91,342.00C91.60,342.48 99.50,348.18 99.50,354.82C99.50,357.20 98.71,359.10 97.52,360.52C99.50,367.18 97.13,374.30 87.65,378.10C79.75,380.95 67.90,380.48 60.00,376.68C52.10,377.15 40.25,377.15 33.93,372.40C28.40,369.07 27.61,364.32 29.19,360.52C23.66,359.57 20.50,355.77 20.50,351.50Z" fill="#dfeafc"/>
<g clip-path="url(#cc4)"><path d="M20.50,351.50C20.50,342.95 28.40,338.68 39.46,339.15C43.41,339.15 46.57,339.62 48.94,340.57C52.89,334.40 60.79,332.50 67.90,332.50C75.80,332.50 81.33,336.30 82.91,342.00C91.60,342.48 99.50,348.18 99.50,354.82C99.50,357.20 98.71,359.10 97.52,360.52C99.50,367.18 97.13,374.30 87.65,378.10C79.75,380.95 67.90,380.48 60.00,376.68C52.10,377.15 40.25,377.15 33.93,372.40C28.40,369.07 27.61,364.32 29.19,360.52C23.66,359.57 20.50,355.77 20.50,351.50Z" fill="none" stroke="url(#cg)" stroke-width="8" filter="url(#blurS)" transform="translate(0,-0.8)"/></g>
<path d="M20.50,351.50C20.50,342.95 28.40,338.68 39.46,339.15C43.41,339.15 46.57,339.62 48.94,340.57C52.89,334.40 60.79,332.50 67.90,332.50C75.80,332.50 81.33,336.30 82.91,342.00C91.60,342.48 99.50,348.18 99.50,354.82C99.50,357.20 98.71,359.10 97.52,360.52C99.50,367.18 97.13,374.30 87.65,378.10C79.75,380.95 67.90,380.48 60.00,376.68C52.10,377.15 40.25,377.15 33.93,372.40C28.40,369.07 27.61,364.32 29.19,360.52C23.66,359.57 20.50,355.77 20.50,351.50Z" fill="none" stroke="#4a7dcd" stroke-width="0.9"/>
<g aria-label="5GC-1" fill="#1a1a1a"><text x="47.27" y="359.95" font-size="10" font-weight="bold" xml:space="preserve">5GC-1</text></g>
<path d="M111.60,355.80L133.40,355.80" stroke="#7b62ba" stroke-width="0.85" fill="none"/>
<path d="M105.00,355.80L112.60,353.20L112.60,358.40Z" fill="#5b2d91"/>
<path d="M140.00,355.80L132.40,358.40L132.40,353.20Z" fill="#5b2d91"/>
<rect x="141.00" y="345.10" width="52.30" height="17.60" fill="#e6610b"/><rect x="142.00" y="362.70" width="50.30" height="1.2" fill="#fbd6b4"/><rect x="144.50" y="364.70" width="45.30" height="1.1" fill="#e6610b"/><path d="M146.11,351.00h3.84v1.3l-1.92,1.3l-1.92,-1.3z" fill="#ffeab0"/><path d="M146.11,354.78h3.84v1.3l-1.92,1.3l-1.92,-1.3z" fill="#ffeab0"/><path d="M152.27,351.00h3.84v1.3l-1.92,1.3l-1.92,-1.3z" fill="#ffeab0"/><path d="M152.27,354.78h3.84v1.3l-1.92,1.3l-1.92,-1.3z" fill="#ffeab0"/><path d="M158.43,351.00h3.84v1.3l-1.92,1.3l-1.92,-1.3z" fill="#ffeab0"/><path d="M158.43,354.78h3.84v1.3l-1.92,1.3l-1.92,-1.3z" fill="#ffeab0"/><path d="M164.59,351.00h3.84v1.3l-1.92,1.3l-1.92,-1.3z" fill="#ffeab0"/><path d="M164.59,354.78h3.84v1.3l-1.92,1.3l-1.92,-1.3z" fill="#ffeab0"/><rect x="176.22" y="347.74" width="14.99" height="12.32" fill="#f6ab6c"/><path d="M178.82,353.90H188.61M183.71,350.34V357.46" stroke="#ffe6cc" stroke-width="0.9" opacity="0.8"/><path d="M177.42,353.90l1.7,-1.7v3.4zM190.01,353.90l-1.7,-1.7v3.4zM183.71,348.94l-1.7,1.7h3.4zM183.71,358.86l-1.7,-1.7h3.4z" fill="#ffe6cc" opacity="0.8"/>
<g aria-label="5GC EOR" fill="#111111"><text x="195.50" y="371.04" font-size="8.0" letter-spacing="-0.085" stroke="#111111" stroke-width="0.15" xml:space="preserve">5GC EOR</text></g>
<path d="M148.12,370.65L98.68,415.75" stroke="#7b62ba" stroke-width="0.85" fill="none"/>
<path d="M153.00,366.20L149.14,373.24L145.63,369.40Z" fill="#5b2d91"/>
<path d="M93.80,420.20L97.66,413.16L101.17,417.00Z" fill="#5b2d91"/>
<path d="M174.77,372.40L190.33,414.80" stroke="#7b62ba" stroke-width="0.85" fill="none"/>
<path d="M172.50,366.20L177.56,372.44L172.68,374.23Z" fill="#5b2d91"/>
<path d="M192.60,421.00L187.54,414.76L192.42,412.97Z" fill="#5b2d91"/>
<rect x="57.50" y="422.50" width="45.00" height="17.60" fill="#6f6549"/><rect x="61.00" y="442.10" width="38.00" height="1.1" fill="#6f6549"/><path d="M61.90,428.40h3.30v1.3l-1.65,1.3l-1.65,-1.3z" fill="#fff3dc"/><path d="M61.90,432.18h3.30v1.3l-1.65,1.3l-1.65,-1.3z" fill="#fff3dc"/><path d="M67.20,428.40h3.30v1.3l-1.65,1.3l-1.65,-1.3z" fill="#fff3dc"/><path d="M67.20,432.18h3.30v1.3l-1.65,1.3l-1.65,-1.3z" fill="#fff3dc"/><path d="M72.50,428.40h3.30v1.3l-1.65,1.3l-1.65,-1.3z" fill="#fff3dc"/><path d="M72.50,432.18h3.30v1.3l-1.65,1.3l-1.65,-1.3z" fill="#fff3dc"/><path d="M77.80,428.40h3.30v1.3l-1.65,1.3l-1.65,-1.3z" fill="#fff3dc"/><path d="M77.80,432.18h3.30v1.3l-1.65,1.3l-1.65,-1.3z" fill="#fff3dc"/><rect x="87.80" y="425.14" width="12.90" height="12.32" fill="#b4dcd2"/><path d="M90.40,431.30H98.10M94.25,427.74V434.86" stroke="#ffffff" stroke-width="0.9" opacity="0.8"/><path d="M89.00,431.30l1.7,-1.7v3.4zM99.50,431.30l-1.7,-1.7v3.4zM94.25,426.34l-1.7,1.7h3.4zM94.25,436.26l-1.7,-1.7h3.4z" fill="#ffffff" opacity="0.8"/>
<rect x="174.60" y="422.50" width="45.20" height="17.60" fill="#6f6549"/><rect x="178.10" y="442.10" width="38.20" height="1.1" fill="#6f6549"/><path d="M179.02,428.40h3.31v1.3l-1.66,1.3l-1.66,-1.3z" fill="#fff3dc"/><path d="M179.02,432.18h3.31v1.3l-1.66,1.3l-1.66,-1.3z" fill="#fff3dc"/><path d="M184.34,428.40h3.31v1.3l-1.66,1.3l-1.66,-1.3z" fill="#fff3dc"/><path d="M184.34,432.18h3.31v1.3l-1.66,1.3l-1.66,-1.3z" fill="#fff3dc"/><path d="M189.67,428.40h3.31v1.3l-1.66,1.3l-1.66,-1.3z" fill="#fff3dc"/><path d="M189.67,432.18h3.31v1.3l-1.66,1.3l-1.66,-1.3z" fill="#fff3dc"/><path d="M194.99,428.40h3.31v1.3l-1.66,1.3l-1.66,-1.3z" fill="#fff3dc"/><path d="M194.99,432.18h3.31v1.3l-1.66,1.3l-1.66,-1.3z" fill="#fff3dc"/><rect x="205.03" y="425.14" width="12.96" height="12.32" fill="#b4dcd2"/><path d="M207.63,431.30H215.39M211.51,427.74V434.86" stroke="#ffffff" stroke-width="0.9" opacity="0.8"/><path d="M206.23,431.30l1.7,-1.7v3.4zM216.79,431.30l-1.7,-1.7v3.4zM211.51,426.34l-1.7,1.7h3.4zM211.51,436.26l-1.7,-1.7h3.4z" fill="#ffffff" opacity="0.8"/>
<g aria-label="室外BBU" fill="#8d9b3c"><text x="90.00" y="462.72" font-size="9" letter-spacing="0.51" font-family="'Liberation Sans','Noto Sans CJK SC',sans-serif" xml:space="preserve">室外</text><text x="109.01" y="462.32" font-size="8.5" letter-spacing="0.506" xml:space="preserve">BBU</text></g>
<g aria-label="室内BBU" fill="#8d9b3c"><text x="208.00" y="462.72" font-size="9" letter-spacing="0.26" font-family="'Liberation Sans','Noto Sans CJK SC',sans-serif" xml:space="preserve">室内</text><text x="226.51" y="462.32" font-size="8.5" letter-spacing="0.256" xml:space="preserve">BBU</text></g>
<path d="M80.00,451.40L80.00,566.00" stroke="#7b62ba" stroke-width="0.85" fill="none"/>
<path d="M80.00,444.80L82.60,452.40L77.40,452.40Z" fill="#5b2d91"/>
<path d="M196.80,451.40L196.80,485.60" stroke="#7b62ba" stroke-width="0.85" fill="none"/>
<path d="M196.80,444.80L199.40,452.40L194.20,452.40Z" fill="#5b2d91"/>
<path d="M196.80,492.20L194.20,484.60L199.40,484.60Z" fill="#5b2d91"/>
<rect x="174.60" y="493.00" width="45.20" height="17.60" fill="#0aa852"/><rect x="175.60" y="510.60" width="43.20" height="1.2" fill="#9cf0c8"/><rect x="178.10" y="512.60" width="38.20" height="1.1" fill="#3aa872"/><path d="M179.02,498.90h3.31v1.3l-1.66,1.3l-1.66,-1.3z" fill="#a8f8d2"/><path d="M179.02,502.68h3.31v1.3l-1.66,1.3l-1.66,-1.3z" fill="#a8f8d2"/><path d="M184.34,498.90h3.31v1.3l-1.66,1.3l-1.66,-1.3z" fill="#a8f8d2"/><path d="M184.34,502.68h3.31v1.3l-1.66,1.3l-1.66,-1.3z" fill="#a8f8d2"/><path d="M189.67,498.90h3.31v1.3l-1.66,1.3l-1.66,-1.3z" fill="#a8f8d2"/><path d="M189.67,502.68h3.31v1.3l-1.66,1.3l-1.66,-1.3z" fill="#a8f8d2"/><path d="M194.99,498.90h3.31v1.3l-1.66,1.3l-1.66,-1.3z" fill="#a8f8d2"/><path d="M194.99,502.68h3.31v1.3l-1.66,1.3l-1.66,-1.3z" fill="#a8f8d2"/><rect x="205.43" y="496.04" width="12.16" height="11.52" fill="none" stroke="#a8f8d2" stroke-width="0.9"/><path d="M207.63,501.80H215.39M211.51,498.24V505.36" stroke="#a8f8d2" stroke-width="0.9" opacity="0.8"/><path d="M206.23,501.80l1.7,-1.7v3.4zM216.79,501.80l-1.7,-1.7v3.4zM211.51,496.84l-1.7,1.7h3.4zM211.51,506.76l-1.7,-1.7h3.4z" fill="#a8f8d2" opacity="0.8"/>
<g aria-label="pRRU HUB" fill="#8d9b3c"><text x="198.80" y="528.82" font-size="8.5" letter-spacing="-0.036" xml:space="preserve">pRRU HUB</text></g>
<path d="M196.80,521.60L196.80,558.40" stroke="#7b62ba" stroke-width="0.85" fill="none"/>
<path d="M196.80,515.00L199.40,522.60L194.20,522.60Z" fill="#5b2d91"/>
<path d="M196.80,565.00L194.20,557.40L199.40,557.40Z" fill="#5b2d91"/>
<path d="M76.04,565.22A5.2,5.2 0 0 0 76.04,572.18M83.76,565.22A5.2,5.2 0 0 1 83.76,572.18" fill="none" stroke="#857d93" stroke-width="1.05"/><path d="M73.09,561.65A9.8,9.8 0 0 0 73.09,575.75M86.71,561.65A9.8,9.8 0 0 1 86.71,575.75" fill="none" stroke="#857d93" stroke-width="1.05"/><path d="M69.94,558.02A14.6,14.6 0 0 0 69.94,579.38M89.86,558.02A14.6,14.6 0 0 1 89.86,579.38" fill="none" stroke="#857d93" stroke-width="1.05"/><path d="M79.90,568.70V577.70" stroke="#5a3d99" stroke-width="1.3"/><circle cx="79.90" cy="573.30" r="1.2" fill="#5a3d99"/><path d="M78.00,577.10h3.8L86.30,602.50h-12.8z" fill="#5f5290"/><circle cx="79.90" cy="568.70" r="2.3" fill="#4b4580"/>
<path d="M193.04,564.92A5.2,5.2 0 0 0 193.04,571.88M200.76,564.92A5.2,5.2 0 0 1 200.76,571.88" fill="none" stroke="#eca580" stroke-width="1.05"/><path d="M190.09,561.35A9.8,9.8 0 0 0 190.09,575.45M203.71,561.35A9.8,9.8 0 0 1 203.71,575.45" fill="none" stroke="#eca580" stroke-width="1.05"/><path d="M186.94,557.72A14.6,14.6 0 0 0 186.94,579.08M206.86,557.72A14.6,14.6 0 0 1 206.86,579.08" fill="none" stroke="#eca580" stroke-width="1.05"/><path d="M196.90,568.40V577.40" stroke="#7a3a14" stroke-width="1.3"/><circle cx="196.90" cy="573.00" r="1.2" fill="#7a3a14"/><path d="M195.00,576.80h3.8L203.30,602.20h-12.8z" fill="#e8590a"/><circle cx="196.90" cy="568.40" r="2.3" fill="#5e2a12"/>
<g aria-label="64TR AAU" fill="#1b7f88"><text x="63.20" y="620.82" font-size="8.5" letter-spacing="0.139" stroke="#1b7f88" stroke-width="0.3" xml:space="preserve">64TR AAU</text></g>
<g aria-label="室内pRRU" fill="#1b7f88"><text x="180.00" y="621.22" font-size="9" letter-spacing="0.27" stroke="#1b7f88" stroke-width="0.3" font-family="'Liberation Sans','Noto Sans CJK SC',sans-serif" xml:space="preserve">室内</text><text x="198.54" y="620.82" font-size="8.5" letter-spacing="0.271" stroke="#1b7f88" stroke-width="0.3" xml:space="preserve">pRRU</text></g>
<clipPath id="cc5"><path d="M362.40,345.90C362.40,337.35 370.35,333.07 381.48,333.55C385.45,333.55 388.63,334.02 391.02,334.97C395.00,328.80 402.94,326.90 410.10,326.90C418.05,326.90 423.62,330.70 425.20,336.40C433.95,336.88 441.90,342.57 441.90,349.22C441.90,351.60 441.10,353.50 439.91,354.92C441.90,361.57 439.51,368.70 429.97,372.50C422.02,375.35 410.10,374.88 402.15,371.07C394.20,371.55 382.27,371.55 375.91,366.80C370.35,363.47 369.55,358.72 371.14,354.92C365.58,353.97 362.40,350.17 362.40,345.90Z"/></clipPath>
<path d="M362.40,345.90C362.40,337.35 370.35,333.07 381.48,333.55C385.45,333.55 388.63,334.02 391.02,334.97C395.00,328.80 402.94,326.90 410.10,326.90C418.05,326.90 423.62,330.70 425.20,336.40C433.95,336.88 441.90,342.57 441.90,349.22C441.90,351.60 441.10,353.50 439.91,354.92C441.90,361.57 439.51,368.70 429.97,372.50C422.02,375.35 410.10,374.88 402.15,371.07C394.20,371.55 382.27,371.55 375.91,366.80C370.35,363.47 369.55,358.72 371.14,354.92C365.58,353.97 362.40,350.17 362.40,345.90Z" fill="#dfeafc"/>
<g clip-path="url(#cc5)"><path d="M362.40,345.90C362.40,337.35 370.35,333.07 381.48,333.55C385.45,333.55 388.63,334.02 391.02,334.97C395.00,328.80 402.94,326.90 410.10,326.90C418.05,326.90 423.62,330.70 425.20,336.40C433.95,336.88 441.90,342.57 441.90,349.22C441.90,351.60 441.10,353.50 439.91,354.92C441.90,361.57 439.51,368.70 429.97,372.50C422.02,375.35 410.10,374.88 402.15,371.07C394.20,371.55 382.27,371.55 375.91,366.80C370.35,363.47 369.55,358.72 371.14,354.92C365.58,353.97 362.40,350.17 362.40,345.90Z" fill="none" stroke="url(#cg)" stroke-width="8" filter="url(#blurS)" transform="translate(0,-0.8)"/></g>
<path d="M362.40,345.90C362.40,337.35 370.35,333.07 381.48,333.55C385.45,333.55 388.63,334.02 391.02,334.97C395.00,328.80 402.94,326.90 410.10,326.90C418.05,326.90 423.62,330.70 425.20,336.40C433.95,336.88 441.90,342.57 441.90,349.22C441.90,351.60 441.10,353.50 439.91,354.92C441.90,361.57 439.51,368.70 429.97,372.50C422.02,375.35 410.10,374.88 402.15,371.07C394.20,371.55 382.27,371.55 375.91,366.80C370.35,363.47 369.55,358.72 371.14,354.92C365.58,353.97 362.40,350.17 362.40,345.90Z" fill="none" stroke="#4a7dcd" stroke-width="0.9"/>
<g aria-label="5GC-2" fill="#1a1a1a"><text x="389.17" y="354.15" font-size="10" font-weight="bold" xml:space="preserve">5GC-2</text></g>
<path d="M371.74,382.27L340.86,414.53" stroke="#7b62ba" stroke-width="0.85" fill="none"/>
<path d="M376.30,377.50L372.92,384.79L369.17,381.19Z" fill="#5b2d91"/>
<path d="M336.30,419.30L339.68,412.01L343.43,415.61Z" fill="#5b2d91"/>
<path d="M403.00,384.10L403.00,412.70" stroke="#7b62ba" stroke-width="0.85" fill="none"/>
<path d="M403.00,377.50L405.60,385.10L400.40,385.10Z" fill="#5b2d91"/>
<path d="M403.00,419.30L400.40,411.70L405.60,411.70Z" fill="#5b2d91"/>
<path d="M433.86,382.27L464.74,414.53" stroke="#7b62ba" stroke-width="0.85" fill="none"/>
<path d="M429.30,377.50L436.43,381.19L432.68,384.79Z" fill="#5b2d91"/>
<path d="M469.30,419.30L462.17,415.61L465.92,412.01Z" fill="#5b2d91"/>
<rect x="302.00" y="420.80" width="45.40" height="17.60" fill="#6f6549"/><rect x="305.50" y="440.40" width="38.40" height="1.1" fill="#6f6549"/><path d="M306.44,426.70h3.33v1.3l-1.66,1.3l-1.66,-1.3z" fill="#fff3dc"/><path d="M306.44,430.48h3.33v1.3l-1.66,1.3l-1.66,-1.3z" fill="#fff3dc"/><path d="M311.79,426.70h3.33v1.3l-1.66,1.3l-1.66,-1.3z" fill="#fff3dc"/><path d="M311.79,430.48h3.33v1.3l-1.66,1.3l-1.66,-1.3z" fill="#fff3dc"/><path d="M317.13,426.70h3.33v1.3l-1.66,1.3l-1.66,-1.3z" fill="#fff3dc"/><path d="M317.13,430.48h3.33v1.3l-1.66,1.3l-1.66,-1.3z" fill="#fff3dc"/><path d="M322.48,426.70h3.33v1.3l-1.66,1.3l-1.66,-1.3z" fill="#fff3dc"/><path d="M322.48,430.48h3.33v1.3l-1.66,1.3l-1.66,-1.3z" fill="#fff3dc"/><rect x="332.57" y="423.44" width="13.01" height="12.32" fill="#b4dcd2"/><path d="M335.17,429.60H342.98M339.08,426.04V433.16" stroke="#ffffff" stroke-width="0.9" opacity="0.8"/><path d="M333.77,429.60l1.7,-1.7v3.4zM344.38,429.60l-1.7,-1.7v3.4zM339.08,424.64l-1.7,1.7h3.4zM339.08,434.56l-1.7,-1.7h3.4z" fill="#ffffff" opacity="0.8"/>
<rect x="380.50" y="420.80" width="45.30" height="17.60" fill="#6f6549"/><rect x="384.00" y="440.40" width="38.30" height="1.1" fill="#6f6549"/><path d="M384.93,426.70h3.32v1.3l-1.66,1.3l-1.66,-1.3z" fill="#fff3dc"/><path d="M384.93,430.48h3.32v1.3l-1.66,1.3l-1.66,-1.3z" fill="#fff3dc"/><path d="M390.26,426.70h3.32v1.3l-1.66,1.3l-1.66,-1.3z" fill="#fff3dc"/><path d="M390.26,430.48h3.32v1.3l-1.66,1.3l-1.66,-1.3z" fill="#fff3dc"/><path d="M395.60,426.70h3.32v1.3l-1.66,1.3l-1.66,-1.3z" fill="#fff3dc"/><path d="M395.60,430.48h3.32v1.3l-1.66,1.3l-1.66,-1.3z" fill="#fff3dc"/><path d="M400.94,426.70h3.32v1.3l-1.66,1.3l-1.66,-1.3z" fill="#fff3dc"/><path d="M400.94,430.48h3.32v1.3l-1.66,1.3l-1.66,-1.3z" fill="#fff3dc"/><rect x="411.00" y="423.44" width="12.99" height="12.32" fill="#b4dcd2"/><path d="M413.60,429.60H421.39M417.50,426.04V433.16" stroke="#ffffff" stroke-width="0.9" opacity="0.8"/><path d="M412.20,429.60l1.7,-1.7v3.4zM422.79,429.60l-1.7,-1.7v3.4zM417.50,424.64l-1.7,1.7h3.4zM417.50,434.56l-1.7,-1.7h3.4z" fill="#ffffff" opacity="0.8"/>
<rect x="458.00" y="420.80" width="45.30" height="17.60" fill="#6f6549"/><rect x="461.50" y="440.40" width="38.30" height="1.1" fill="#6f6549"/><path d="M462.43,426.70h3.32v1.3l-1.66,1.3l-1.66,-1.3z" fill="#fff3dc"/><path d="M462.43,430.48h3.32v1.3l-1.66,1.3l-1.66,-1.3z" fill="#fff3dc"/><path d="M467.76,426.70h3.32v1.3l-1.66,1.3l-1.66,-1.3z" fill="#fff3dc"/><path d="M467.76,430.48h3.32v1.3l-1.66,1.3l-1.66,-1.3z" fill="#fff3dc"/><path d="M473.10,426.70h3.32v1.3l-1.66,1.3l-1.66,-1.3z" fill="#fff3dc"/><path d="M473.10,430.48h3.32v1.3l-1.66,1.3l-1.66,-1.3z" fill="#fff3dc"/><path d="M478.44,426.70h3.32v1.3l-1.66,1.3l-1.66,-1.3z" fill="#fff3dc"/><path d="M478.44,430.48h3.32v1.3l-1.66,1.3l-1.66,-1.3z" fill="#fff3dc"/><rect x="488.50" y="423.44" width="12.99" height="12.32" fill="#b4dcd2"/><path d="M491.10,429.60H498.89M495.00,426.04V433.16" stroke="#ffffff" stroke-width="0.9" opacity="0.8"/><path d="M489.70,429.60l1.7,-1.7v3.4zM500.29,429.60l-1.7,-1.7v3.4zM495.00,424.64l-1.7,1.7h3.4zM495.00,434.56l-1.7,-1.7h3.4z" fill="#ffffff" opacity="0.8"/>
<g aria-label="室外BBU" fill="#8d9b3c"><text x="339.30" y="461.02" font-size="9" letter-spacing="0.18" font-family="'Liberation Sans','Noto Sans CJK SC',sans-serif" xml:space="preserve">室外</text><text x="357.66" y="460.62" font-size="8.5" letter-spacing="0.181" xml:space="preserve">BBU</text></g>
<g aria-label="室内BBU" fill="#8d9b3c"><text x="420.00" y="461.02" font-size="9" letter-spacing="0.33" font-family="'Liberation Sans','Noto Sans CJK SC',sans-serif" xml:space="preserve">室内</text><text x="438.66" y="460.62" font-size="8.5" letter-spacing="0.331" xml:space="preserve">BBU</text></g>
<g aria-label="室内BBU" fill="#8d9b3c"><text x="497.50" y="461.02" font-size="9" letter-spacing="0.21" font-family="'Liberation Sans','Noto Sans CJK SC',sans-serif" xml:space="preserve">室内</text><text x="515.91" y="460.62" font-size="8.5" letter-spacing="0.206" xml:space="preserve">BBU</text></g>
<path d="M325.00,449.10L325.00,556.70" stroke="#7b62ba" stroke-width="0.85" fill="none"/>
<path d="M325.00,442.50L327.60,450.10L322.40,450.10Z" fill="#5b2d91"/>
<path d="M325.00,563.30L322.40,555.70L327.60,555.70Z" fill="#5b2d91"/>
<path d="M402.60,449.10L402.60,484.70" stroke="#7b62ba" stroke-width="0.85" fill="none"/>
<path d="M402.60,442.50L405.20,450.10L400.00,450.10Z" fill="#5b2d91"/>
<path d="M402.60,491.30L400.00,483.70L405.20,483.70Z" fill="#5b2d91"/>
<path d="M480.60,449.10L480.60,556.70" stroke="#7b62ba" stroke-width="0.85" fill="none"/>
<path d="M480.60,442.50L483.20,450.10L478.00,450.10Z" fill="#5b2d91"/>
<path d="M480.60,563.30L478.00,555.70L483.20,555.70Z" fill="#5b2d91"/>
<rect x="378.80" y="492.50" width="48.20" height="17.60" fill="#0aa852"/><rect x="379.80" y="510.10" width="46.20" height="1.2" fill="#9cf0c8"/><rect x="382.30" y="512.10" width="41.20" height="1.1" fill="#3aa872"/><path d="M383.51,498.40h3.53v1.3l-1.77,1.3l-1.77,-1.3z" fill="#a8f8d2"/><path d="M383.51,502.18h3.53v1.3l-1.77,1.3l-1.77,-1.3z" fill="#a8f8d2"/><path d="M389.19,498.40h3.53v1.3l-1.77,1.3l-1.77,-1.3z" fill="#a8f8d2"/><path d="M389.19,502.18h3.53v1.3l-1.77,1.3l-1.77,-1.3z" fill="#a8f8d2"/><path d="M394.87,498.40h3.53v1.3l-1.77,1.3l-1.77,-1.3z" fill="#a8f8d2"/><path d="M394.87,502.18h3.53v1.3l-1.77,1.3l-1.77,-1.3z" fill="#a8f8d2"/><path d="M400.54,498.40h3.53v1.3l-1.77,1.3l-1.77,-1.3z" fill="#a8f8d2"/><path d="M400.54,502.18h3.53v1.3l-1.77,1.3l-1.77,-1.3z" fill="#a8f8d2"/><rect x="411.65" y="495.54" width="13.02" height="11.52" fill="none" stroke="#a8f8d2" stroke-width="0.9"/><path d="M413.85,501.30H422.47M418.16,497.74V504.86" stroke="#a8f8d2" stroke-width="0.9" opacity="0.8"/><path d="M412.45,501.30l1.7,-1.7v3.4zM423.87,501.30l-1.7,-1.7v3.4zM418.16,496.34l-1.7,1.7h3.4zM418.16,506.26l-1.7,-1.7h3.4z" fill="#a8f8d2" opacity="0.8"/>
<g aria-label="pRRU HUB" fill="#8d9b3c"><text x="410.50" y="524.82" font-size="8.5" letter-spacing="-0.021" xml:space="preserve">pRRU HUB</text></g>
<path d="M402.80,521.40L402.80,556.70" stroke="#7b62ba" stroke-width="0.85" fill="none"/>
<path d="M402.80,514.80L405.40,522.40L400.20,522.40Z" fill="#5b2d91"/>
<path d="M402.80,563.30L400.20,555.70L405.40,555.70Z" fill="#5b2d91"/>
<path d="M321.14,563.32A5.2,5.2 0 0 0 321.14,570.28M328.86,563.32A5.2,5.2 0 0 1 328.86,570.28" fill="none" stroke="#857d93" stroke-width="1.05"/><path d="M318.19,559.75A9.8,9.8 0 0 0 318.19,573.85M331.81,559.75A9.8,9.8 0 0 1 331.81,573.85" fill="none" stroke="#857d93" stroke-width="1.05"/><path d="M315.04,556.12A14.6,14.6 0 0 0 315.04,577.48M334.96,556.12A14.6,14.6 0 0 1 334.96,577.48" fill="none" stroke="#857d93" stroke-width="1.05"/><path d="M325.00,566.80V575.80" stroke="#5a3d99" stroke-width="1.3"/><circle cx="325.00" cy="571.40" r="1.2" fill="#5a3d99"/><path d="M323.10,575.20h3.8L331.40,600.60h-12.8z" fill="#5f5290"/><circle cx="325.00" cy="566.80" r="2.3" fill="#4b4580"/>
<path d="M399.14,563.32A5.2,5.2 0 0 0 399.14,570.28M406.86,563.32A5.2,5.2 0 0 1 406.86,570.28" fill="none" stroke="#eca580" stroke-width="1.05"/><path d="M396.19,559.75A9.8,9.8 0 0 0 396.19,573.85M409.81,559.75A9.8,9.8 0 0 1 409.81,573.85" fill="none" stroke="#eca580" stroke-width="1.05"/><path d="M393.04,556.12A14.6,14.6 0 0 0 393.04,577.48M412.96,556.12A14.6,14.6 0 0 1 412.96,577.48" fill="none" stroke="#eca580" stroke-width="1.05"/><path d="M403.00,566.80V575.80" stroke="#7a3a14" stroke-width="1.3"/><circle cx="403.00" cy="571.40" r="1.2" fill="#7a3a14"/><path d="M401.10,575.20h3.8L409.40,600.60h-12.8z" fill="#e8590a"/><circle cx="403.00" cy="566.80" r="2.3" fill="#5e2a12"/>
<path d="M476.94,563.32A5.2,5.2 0 0 0 476.94,570.28M484.66,563.32A5.2,5.2 0 0 1 484.66,570.28" fill="none" stroke="#928270" stroke-width="1.05"/><path d="M473.99,559.75A9.8,9.8 0 0 0 473.99,573.85M487.61,559.75A9.8,9.8 0 0 1 487.61,573.85" fill="none" stroke="#928270" stroke-width="1.05"/><path d="M470.84,556.12A14.6,14.6 0 0 0 470.84,577.48M490.76,556.12A14.6,14.6 0 0 1 490.76,577.48" fill="none" stroke="#928270" stroke-width="1.05"/><path d="M480.80,566.80V575.80" stroke="#8c7242" stroke-width="1.3"/><circle cx="480.80" cy="571.40" r="1.2" fill="#8c7242"/><path d="M478.90,575.20h3.8L487.20,600.60h-12.8z" fill="#8c7242"/><circle cx="480.80" cy="566.80" r="2.3" fill="#8a7458"/>
<g aria-label="64TR AAU" fill="#1b7f88"><text x="307.50" y="618.92" font-size="8.5" letter-spacing="0.197" stroke="#1b7f88" stroke-width="0.3" xml:space="preserve">64TR AAU</text></g>
<g aria-label="室内pRRU" fill="#1b7f88"><text x="386.30" y="619.32" font-size="9" letter-spacing="0.27" stroke="#1b7f88" stroke-width="0.3" font-family="'Liberation Sans','Noto Sans CJK SC',sans-serif" xml:space="preserve">室内</text><text x="404.84" y="618.92" font-size="8.5" letter-spacing="0.271" stroke="#1b7f88" stroke-width="0.3" xml:space="preserve">pRRU</text></g>
<g aria-label="padRRU" fill="#1b7f88"><text x="468.80" y="617.62" font-size="8.5" letter-spacing="0.121" stroke="#1b7f88" stroke-width="0.3" xml:space="preserve">padRRU</text></g>
<clipPath id="cc6"><path d="M568.00,347.50C568.00,338.86 575.95,334.54 587.08,335.02C591.05,335.02 594.24,335.50 596.62,336.46C600.60,330.22 608.54,328.30 615.70,328.30C623.65,328.30 629.22,332.14 630.80,337.90C639.55,338.38 647.50,344.14 647.50,350.86C647.50,353.26 646.71,355.18 645.51,356.62C647.50,363.34 645.12,370.54 635.58,374.38C627.62,377.26 615.70,376.78 607.75,372.94C599.80,373.42 587.88,373.42 581.51,368.62C575.95,365.26 575.15,360.46 576.75,356.62C571.18,355.66 568.00,351.82 568.00,347.50Z"/></clipPath>
<path d="M568.00,347.50C568.00,338.86 575.95,334.54 587.08,335.02C591.05,335.02 594.24,335.50 596.62,336.46C600.60,330.22 608.54,328.30 615.70,328.30C623.65,328.30 629.22,332.14 630.80,337.90C639.55,338.38 647.50,344.14 647.50,350.86C647.50,353.26 646.71,355.18 645.51,356.62C647.50,363.34 645.12,370.54 635.58,374.38C627.62,377.26 615.70,376.78 607.75,372.94C599.80,373.42 587.88,373.42 581.51,368.62C575.95,365.26 575.15,360.46 576.75,356.62C571.18,355.66 568.00,351.82 568.00,347.50Z" fill="#dfeafc"/>
<g clip-path="url(#cc6)"><path d="M568.00,347.50C568.00,338.86 575.95,334.54 587.08,335.02C591.05,335.02 594.24,335.50 596.62,336.46C600.60,330.22 608.54,328.30 615.70,328.30C623.65,328.30 629.22,332.14 630.80,337.90C639.55,338.38 647.50,344.14 647.50,350.86C647.50,353.26 646.71,355.18 645.51,356.62C647.50,363.34 645.12,370.54 635.58,374.38C627.62,377.26 615.70,376.78 607.75,372.94C599.80,373.42 587.88,373.42 581.51,368.62C575.95,365.26 575.15,360.46 576.75,356.62C571.18,355.66 568.00,351.82 568.00,347.50Z" fill="none" stroke="url(#cg)" stroke-width="8" filter="url(#blurS)" transform="translate(0,-0.8)"/></g>
<path d="M568.00,347.50C568.00,338.86 575.95,334.54 587.08,335.02C591.05,335.02 594.24,335.50 596.62,336.46C600.60,330.22 608.54,328.30 615.70,328.30C623.65,328.30 629.22,332.14 630.80,337.90C639.55,338.38 647.50,344.14 647.50,350.86C647.50,353.26 646.71,355.18 645.51,356.62C647.50,363.34 645.12,370.54 635.58,374.38C627.62,377.26 615.70,376.78 607.75,372.94C599.80,373.42 587.88,373.42 581.51,368.62C575.95,365.26 575.15,360.46 576.75,356.62C571.18,355.66 568.00,351.82 568.00,347.50Z" fill="none" stroke="#4a7dcd" stroke-width="0.9"/>
<g aria-label="5GC-3" fill="#1a1a1a"><text x="595.47" y="355.75" font-size="10" font-weight="bold" xml:space="preserve">5GC-3</text></g>
<path d="M609.30,385.90L609.30,414.20" stroke="#7b62ba" stroke-width="0.85" fill="none"/>
<path d="M609.30,379.30L611.90,386.90L606.70,386.90Z" fill="#5b2d91"/>
<path d="M609.30,420.80L606.70,413.20L611.90,413.20Z" fill="#5b2d91"/>
<rect x="587.00" y="422.50" width="45.20" height="17.60" fill="#6f6549"/><rect x="590.50" y="442.10" width="38.20" height="1.1" fill="#6f6549"/><path d="M591.42,428.40h3.31v1.3l-1.66,1.3l-1.66,-1.3z" fill="#fff3dc"/><path d="M591.42,432.18h3.31v1.3l-1.66,1.3l-1.66,-1.3z" fill="#fff3dc"/><path d="M596.74,428.40h3.31v1.3l-1.66,1.3l-1.66,-1.3z" fill="#fff3dc"/><path d="M596.74,432.18h3.31v1.3l-1.66,1.3l-1.66,-1.3z" fill="#fff3dc"/><path d="M602.07,428.40h3.31v1.3l-1.66,1.3l-1.66,-1.3z" fill="#fff3dc"/><path d="M602.07,432.18h3.31v1.3l-1.66,1.3l-1.66,-1.3z" fill="#fff3dc"/><path d="M607.39,428.40h3.31v1.3l-1.66,1.3l-1.66,-1.3z" fill="#fff3dc"/><path d="M607.39,432.18h3.31v1.3l-1.66,1.3l-1.66,-1.3z" fill="#fff3dc"/><rect x="617.43" y="425.14" width="12.96" height="12.32" fill="#b4dcd2"/><path d="M620.03,431.30H627.79M623.91,427.74V434.86" stroke="#ffffff" stroke-width="0.9" opacity="0.8"/><path d="M618.63,431.30l1.7,-1.7v3.4zM629.19,431.30l-1.7,-1.7v3.4zM623.91,426.34l-1.7,1.7h3.4zM623.91,436.26l-1.7,-1.7h3.4z" fill="#ffffff" opacity="0.8"/>
<g aria-label="BBU" fill="#8d9b3c"><text x="625.50" y="458.62" font-size="8.5" letter-spacing="0.011" xml:space="preserve">BBU</text></g>
<path d="M609.30,451.20L609.30,557.80" stroke="#7b62ba" stroke-width="0.85" fill="none"/>
<path d="M609.30,444.60L611.90,452.20L606.70,452.20Z" fill="#5b2d91"/>
<path d="M609.30,564.40L606.70,556.80L611.90,556.80Z" fill="#5b2d91"/>
<path d="M605.44,564.52A5.2,5.2 0 0 0 605.44,571.48M613.16,564.52A5.2,5.2 0 0 1 613.16,571.48" fill="none" stroke="#a3b8c7" stroke-width="1.05"/><path d="M602.49,560.95A9.8,9.8 0 0 0 602.49,575.05M616.11,560.95A9.8,9.8 0 0 1 616.11,575.05" fill="none" stroke="#a3b8c7" stroke-width="1.05"/><path d="M599.34,557.32A14.6,14.6 0 0 0 599.34,578.68M619.26,557.32A14.6,14.6 0 0 1 619.26,578.68" fill="none" stroke="#a3b8c7" stroke-width="1.05"/><path d="M609.30,568.00V577.00" stroke="#86afc9" stroke-width="1.3"/><circle cx="609.30" cy="572.60" r="1.2" fill="#86afc9"/><path d="M607.40,576.40h3.8L615.70,601.80h-12.8z" fill="#86afc9"/><circle cx="609.30" cy="568.00" r="2.3" fill="#7fa8c4"/>
<g aria-label="RRU" fill="#1b7f88"><text x="604.50" y="620.62" font-size="8.5" letter-spacing="-0.458" stroke="#1b7f88" stroke-width="0.3" xml:space="preserve">RRU</text></g>
<rect x="700.00" y="422.50" width="45.50" height="17.60" fill="#6f6549"/><rect x="703.50" y="442.10" width="38.50" height="1.1" fill="#6f6549"/><path d="M704.45,428.40h3.34v1.3l-1.67,1.3l-1.67,-1.3z" fill="#fff3dc"/><path d="M704.45,432.18h3.34v1.3l-1.67,1.3l-1.67,-1.3z" fill="#fff3dc"/><path d="M709.81,428.40h3.34v1.3l-1.67,1.3l-1.67,-1.3z" fill="#fff3dc"/><path d="M709.81,432.18h3.34v1.3l-1.67,1.3l-1.67,-1.3z" fill="#fff3dc"/><path d="M715.17,428.40h3.34v1.3l-1.67,1.3l-1.67,-1.3z" fill="#fff3dc"/><path d="M715.17,432.18h3.34v1.3l-1.67,1.3l-1.67,-1.3z" fill="#fff3dc"/><path d="M720.53,428.40h3.34v1.3l-1.67,1.3l-1.67,-1.3z" fill="#fff3dc"/><path d="M720.53,432.18h3.34v1.3l-1.67,1.3l-1.67,-1.3z" fill="#fff3dc"/><rect x="730.64" y="425.14" width="13.04" height="12.32" fill="#b4dcd2"/><path d="M733.24,431.30H741.08M737.16,427.74V434.86" stroke="#ffffff" stroke-width="0.9" opacity="0.8"/><path d="M731.84,431.30l1.7,-1.7v3.4zM742.48,431.30l-1.7,-1.7v3.4zM737.16,426.34l-1.7,1.7h3.4zM737.16,436.26l-1.7,-1.7h3.4z" fill="#ffffff" opacity="0.8"/>
<g aria-label="BBU" fill="#8d9b3c"><text x="748.80" y="452.42" font-size="8.5" letter-spacing="0.011" xml:space="preserve">BBU</text></g>
<path d="M722.50,451.20L722.50,557.80" stroke="#7b62ba" stroke-width="0.85" fill="none"/>
<path d="M722.50,444.60L725.10,452.20L719.90,452.20Z" fill="#5b2d91"/>
<path d="M722.50,564.40L719.90,556.80L725.10,556.80Z" fill="#5b2d91"/>
<path d="M718.64,564.52A5.2,5.2 0 0 0 718.64,571.48M726.36,564.52A5.2,5.2 0 0 1 726.36,571.48" fill="none" stroke="#a3b8c7" stroke-width="1.05"/><path d="M715.69,560.95A9.8,9.8 0 0 0 715.69,575.05M729.31,560.95A9.8,9.8 0 0 1 729.31,575.05" fill="none" stroke="#a3b8c7" stroke-width="1.05"/><path d="M712.54,557.32A14.6,14.6 0 0 0 712.54,578.68M732.46,557.32A14.6,14.6 0 0 1 732.46,578.68" fill="none" stroke="#a3b8c7" stroke-width="1.05"/><path d="M722.50,568.00V577.00" stroke="#86afc9" stroke-width="1.3"/><circle cx="722.50" cy="572.60" r="1.2" fill="#86afc9"/><path d="M720.60,576.40h3.8L728.90,601.80h-12.8z" fill="#86afc9"/><circle cx="722.50" cy="568.00" r="2.3" fill="#7fa8c4"/>
<g aria-label="RRU" fill="#1b7f88"><text x="718.00" y="620.62" font-size="8.5" letter-spacing="-0.458" stroke="#1b7f88" stroke-width="0.3" xml:space="preserve">RRU</text></g>
<rect x="819.00" y="422.30" width="45.40" height="17.30" fill="#6f6549"/><rect x="822.50" y="441.60" width="38.40" height="1.1" fill="#6f6549"/><path d="M823.44,428.10h3.33v1.3l-1.66,1.3l-1.66,-1.3z" fill="#fff3dc"/><path d="M823.44,431.81h3.33v1.3l-1.66,1.3l-1.66,-1.3z" fill="#fff3dc"/><path d="M828.79,428.10h3.33v1.3l-1.66,1.3l-1.66,-1.3z" fill="#fff3dc"/><path d="M828.79,431.81h3.33v1.3l-1.66,1.3l-1.66,-1.3z" fill="#fff3dc"/><path d="M834.13,428.10h3.33v1.3l-1.66,1.3l-1.66,-1.3z" fill="#fff3dc"/><path d="M834.13,431.81h3.33v1.3l-1.66,1.3l-1.66,-1.3z" fill="#fff3dc"/><path d="M839.48,428.10h3.33v1.3l-1.66,1.3l-1.66,-1.3z" fill="#fff3dc"/><path d="M839.48,431.81h3.33v1.3l-1.66,1.3l-1.66,-1.3z" fill="#fff3dc"/><rect x="849.57" y="424.90" width="13.01" height="12.11" fill="#b4dcd2"/><path d="M852.17,430.95H859.98M856.08,427.50V434.41" stroke="#ffffff" stroke-width="0.9" opacity="0.8"/><path d="M850.77,430.95l1.7,-1.7v3.4zM861.38,430.95l-1.7,-1.7v3.4zM856.08,426.10l-1.7,1.7h3.4zM856.08,435.81l-1.7,-1.7h3.4z" fill="#ffffff" opacity="0.8"/>
<g aria-label="BBU" fill="#8d9b3c"><text x="872.40" y="448.02" font-size="8.5" letter-spacing="0.161" xml:space="preserve">BBU</text></g>
<path d="M841.60,450.90L841.60,557.60" stroke="#7b62ba" stroke-width="0.85" fill="none"/>
<path d="M841.60,444.30L844.20,451.90L839.00,451.90Z" fill="#5b2d91"/>
<path d="M841.60,564.20L839.00,556.60L844.20,556.60Z" fill="#5b2d91"/>
<path d="M856.64,449.27L889.06,486.33" stroke="#7b62ba" stroke-width="0.85" fill="none"/>
<path d="M852.30,444.30L859.26,448.31L855.35,451.73Z" fill="#5b2d91"/>
<path d="M893.40,491.30L886.44,487.29L890.35,483.87Z" fill="#5b2d91"/>
<rect x="880.80" y="493.20" width="45.60" height="17.40" fill="#0aa852"/><rect x="881.80" y="510.60" width="43.60" height="1.2" fill="#9cf0c8"/><rect x="884.30" y="512.60" width="38.60" height="1.1" fill="#3aa872"/><path d="M885.26,499.03h3.34v1.3l-1.67,1.3l-1.67,-1.3z" fill="#a8f8d2"/><path d="M885.26,502.77h3.34v1.3l-1.67,1.3l-1.67,-1.3z" fill="#a8f8d2"/><path d="M890.63,499.03h3.34v1.3l-1.67,1.3l-1.67,-1.3z" fill="#a8f8d2"/><path d="M890.63,502.77h3.34v1.3l-1.67,1.3l-1.67,-1.3z" fill="#a8f8d2"/><path d="M896.00,499.03h3.34v1.3l-1.67,1.3l-1.67,-1.3z" fill="#a8f8d2"/><path d="M896.00,502.77h3.34v1.3l-1.67,1.3l-1.67,-1.3z" fill="#a8f8d2"/><path d="M901.37,499.03h3.34v1.3l-1.67,1.3l-1.67,-1.3z" fill="#a8f8d2"/><path d="M901.37,502.77h3.34v1.3l-1.67,1.3l-1.67,-1.3z" fill="#a8f8d2"/><rect x="911.90" y="496.21" width="12.27" height="11.38" fill="none" stroke="#a8f8d2" stroke-width="0.9"/><path d="M914.10,501.90H921.98M918.04,498.41V505.39" stroke="#a8f8d2" stroke-width="0.9" opacity="0.8"/><path d="M912.70,501.90l1.7,-1.7v3.4zM923.38,501.90l-1.7,-1.7v3.4zM918.04,497.01l-1.7,1.7h3.4zM918.04,506.79l-1.7,-1.7h3.4z" fill="#a8f8d2" opacity="0.8"/>
<g aria-label="pRRU HUB" fill="#8d9b3c"><text x="912.70" y="529.82" font-size="8.5" letter-spacing="-0.064" xml:space="preserve">pRRU HUB</text></g>
<path d="M903.60,522.10L903.60,557.60" stroke="#7b62ba" stroke-width="0.85" fill="none"/>
<path d="M903.60,515.50L906.20,523.10L901.00,523.10Z" fill="#5b2d91"/>
<path d="M903.60,564.20L901.00,556.60L906.20,556.60Z" fill="#5b2d91"/>
<path d="M837.74,564.32A5.2,5.2 0 0 0 837.74,571.28M845.46,564.32A5.2,5.2 0 0 1 845.46,571.28" fill="none" stroke="#857d93" stroke-width="1.05"/><path d="M834.79,560.75A9.8,9.8 0 0 0 834.79,574.85M848.41,560.75A9.8,9.8 0 0 1 848.41,574.85" fill="none" stroke="#857d93" stroke-width="1.05"/><path d="M831.64,557.12A14.6,14.6 0 0 0 831.64,578.48M851.56,557.12A14.6,14.6 0 0 1 851.56,578.48" fill="none" stroke="#857d93" stroke-width="1.05"/><path d="M841.60,567.80V576.80" stroke="#5a3d99" stroke-width="1.3"/><circle cx="841.60" cy="572.40" r="1.2" fill="#5a3d99"/><path d="M839.70,576.20h3.8L848.00,601.60h-12.8z" fill="#5f5290"/><circle cx="841.60" cy="567.80" r="2.3" fill="#4b4580"/>
<path d="M899.74,564.32A5.2,5.2 0 0 0 899.74,571.28M907.46,564.32A5.2,5.2 0 0 1 907.46,571.28" fill="none" stroke="#eca580" stroke-width="1.05"/><path d="M896.79,560.75A9.8,9.8 0 0 0 896.79,574.85M910.41,560.75A9.8,9.8 0 0 1 910.41,574.85" fill="none" stroke="#eca580" stroke-width="1.05"/><path d="M893.64,557.12A14.6,14.6 0 0 0 893.64,578.48M913.56,557.12A14.6,14.6 0 0 1 913.56,578.48" fill="none" stroke="#eca580" stroke-width="1.05"/><path d="M903.60,567.80V576.80" stroke="#7a3a14" stroke-width="1.3"/><circle cx="903.60" cy="572.40" r="1.2" fill="#7a3a14"/><path d="M901.70,576.20h3.8L910.00,601.60h-12.8z" fill="#e8590a"/><circle cx="903.60" cy="567.80" r="2.3" fill="#5e2a12"/>
<g aria-label="64TR AAU" fill="#1b7f88"><text x="825.00" y="620.32" font-size="8.5" letter-spacing="0.125" stroke="#1b7f88" stroke-width="0.3" xml:space="preserve">64TR AAU</text></g>
<g aria-label="pRRU" fill="#1b7f88"><text x="896.00" y="620.32" font-size="8.5" letter-spacing="-0.048" stroke="#1b7f88" stroke-width="0.3" xml:space="preserve">pRRU</text></g>
<rect x="988.20" y="422.30" width="45.40" height="17.30" fill="#6f6549"/><rect x="991.70" y="441.60" width="38.40" height="1.1" fill="#6f6549"/><path d="M992.64,428.10h3.33v1.3l-1.66,1.3l-1.66,-1.3z" fill="#fff3dc"/><path d="M992.64,431.81h3.33v1.3l-1.66,1.3l-1.66,-1.3z" fill="#fff3dc"/><path d="M997.99,428.10h3.33v1.3l-1.66,1.3l-1.66,-1.3z" fill="#fff3dc"/><path d="M997.99,431.81h3.33v1.3l-1.66,1.3l-1.66,-1.3z" fill="#fff3dc"/><path d="M1003.33,428.10h3.33v1.3l-1.66,1.3l-1.66,-1.3z" fill="#fff3dc"/><path d="M1003.33,431.81h3.33v1.3l-1.66,1.3l-1.66,-1.3z" fill="#fff3dc"/><path d="M1008.68,428.10h3.33v1.3l-1.66,1.3l-1.66,-1.3z" fill="#fff3dc"/><path d="M1008.68,431.81h3.33v1.3l-1.66,1.3l-1.66,-1.3z" fill="#fff3dc"/><rect x="1018.77" y="424.90" width="13.01" height="12.11" fill="#b4dcd2"/><path d="M1021.37,430.95H1029.18M1025.28,427.50V434.41" stroke="#ffffff" stroke-width="0.9" opacity="0.8"/><path d="M1019.97,430.95l1.7,-1.7v3.4zM1030.58,430.95l-1.7,-1.7v3.4zM1025.28,426.10l-1.7,1.7h3.4zM1025.28,435.81l-1.7,-1.7h3.4z" fill="#ffffff" opacity="0.8"/>
<g aria-label="BBU" fill="#8d9b3c"><text x="1037.00" y="452.22" font-size="8.5" letter-spacing="0.011" xml:space="preserve">BBU</text></g>
<path d="M1010.70,450.90L1010.70,557.60" stroke="#7b62ba" stroke-width="0.85" fill="none"/>
<path d="M1010.70,444.30L1013.30,451.90L1008.10,451.90Z" fill="#5b2d91"/>
<path d="M1010.70,564.20L1008.10,556.60L1013.30,556.60Z" fill="#5b2d91"/>
<path d="M1006.84,564.32A5.2,5.2 0 0 0 1006.84,571.28M1014.56,564.32A5.2,5.2 0 0 1 1014.56,571.28" fill="none" stroke="#857d93" stroke-width="1.05"/><path d="M1003.89,560.75A9.8,9.8 0 0 0 1003.89,574.85M1017.51,560.75A9.8,9.8 0 0 1 1017.51,574.85" fill="none" stroke="#857d93" stroke-width="1.05"/><path d="M1000.74,557.12A14.6,14.6 0 0 0 1000.74,578.48M1020.66,557.12A14.6,14.6 0 0 1 1020.66,578.48" fill="none" stroke="#857d93" stroke-width="1.05"/><path d="M1010.70,567.80V576.80" stroke="#5a3d99" stroke-width="1.3"/><circle cx="1010.70" cy="572.40" r="1.2" fill="#5a3d99"/><path d="M1008.80,576.20h3.8L1017.10,601.60h-12.8z" fill="#5f5290"/><circle cx="1010.70" cy="567.80" r="2.3" fill="#4b4580"/>
<g aria-label="64TR AAU" fill="#1b7f88"><text x="994.00" y="620.32" font-size="8.5" letter-spacing="0.054" stroke="#1b7f88" stroke-width="0.3" xml:space="preserve">64TR AAU</text></g>
<path d="M147.41,339.59L58.89,266.41" stroke="#e3141e" stroke-width="1.1" fill="none" stroke-dasharray="3.5 2.1"/>
<path d="M152.50,343.80L144.99,340.96L148.30,336.95Z" fill="#e3141e"/>
<path d="M53.80,262.20L61.31,265.04L58.00,269.05Z" fill="#e3141e"/>
<path d="M404.25,184.80L403.25,318.60" stroke="#e3141e" stroke-width="1.1" fill="none" stroke-dasharray="3.5 2.1"/>
<path d="M404.30,178.20L406.84,185.82L401.64,185.78Z" fill="#e3141e"/>
<path d="M403.20,325.20L400.66,317.58L405.86,317.62Z" fill="#e3141e"/>
<path d="M424.45,182.47L576.45,322.53" stroke="#e3141e" stroke-width="1.1" fill="none" stroke-dasharray="3.5 2.1"/>
<path d="M419.60,178.00L426.95,181.24L423.43,185.06Z" fill="#e3141e"/>
<path d="M581.30,327.00L573.95,323.76L577.47,319.94Z" fill="#e3141e"/>
<path d="M439.40,165.20L807.00,165.20" stroke="#e3141e" stroke-width="1.1" fill="none" stroke-dasharray="3.5 2.1"/>
<path d="M432.80,165.20L440.40,162.60L440.40,167.80Z" fill="#e3141e"/>
<path d="M813.60,165.20L806.00,167.80L806.00,162.60Z" fill="#e3141e"/>
</svg>
</body>
</html>
